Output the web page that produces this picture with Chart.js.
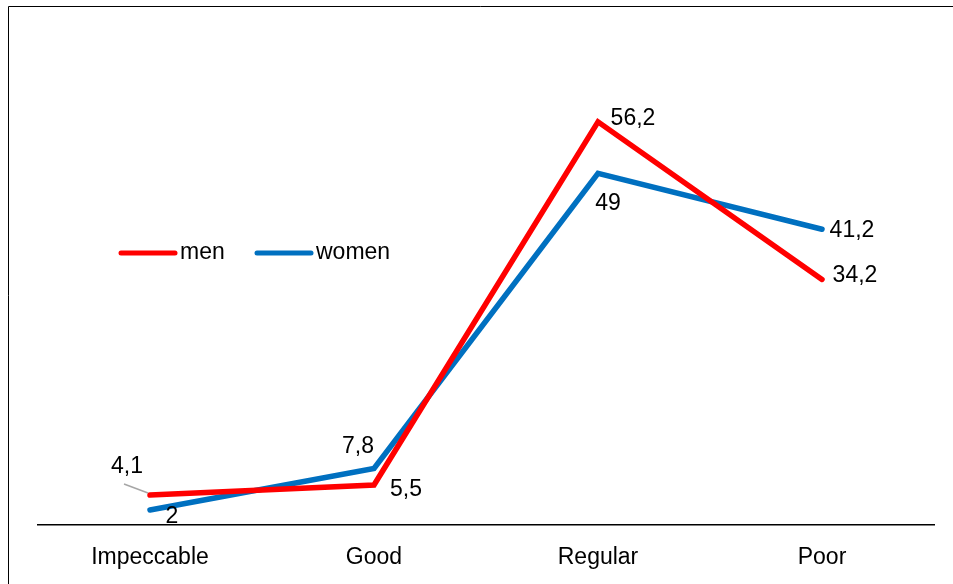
<!DOCTYPE html>
<html>
<head>
<meta charset="utf-8">
<script src="https://cdn.jsdelivr.net/npm/chart.js@4/dist/chart.umd.min.js"></script>
<style>
  html, body { margin: 0; padding: 0; background: #fff; }
  canvas { display: block; }
</style>
</head>
<body>
<canvas id="c" width="953" height="584"></canvas>
<script>
// Categories and series values
const categories = ['Impeccable', 'Good', 'Regular', 'Poor'];
const menValues = [4.1, 5.5, 56.2, 34.2];
const womenValues = [2, 7.8, 49, 41.2];
const seriesNames = ['men', 'women'];

const FONT = 'Liberation Sans, Arial, sans-serif';
const FONT_SIZE = 23;
const fmt = v => String(v).replace('.', ',');

// Label placement around each point (pixel offsets from the point)
const labelOffsets = [
  [[-23, -28], [32, 5], [35, -3], [33, -4]],
  [[22, 7], [-16, -22], [10, 30], [30, 1]]
];

const valueLabels = {
  id: 'valueLabels',
  afterDatasetsDraw(chart) {
    const ctx = chart.ctx;
    ctx.save();
    ctx.font = FONT_SIZE + 'px ' + FONT;
    ctx.fillStyle = '#000';
    ctx.textAlign = 'center';
    ctx.textBaseline = 'middle';
    chart.data.datasets.forEach((ds, di) => {
      const meta = chart.getDatasetMeta(di);
      meta.data.forEach((pt, i) => {
        const [dx, dy] = labelOffsets[di][i];
        const x = pt.x + dx, y = pt.y + dy;
        if (di === 0 && i === 0) {
          // leader line from the label down to its point
          ctx.strokeStyle = '#a6a6a6';
          ctx.lineWidth = 1.5;
          ctx.beginPath();
          ctx.moveTo(x - 3, y + 17);
          ctx.lineTo(pt.x - 2, pt.y - 2);
          ctx.stroke();
        }
        ctx.fillText(fmt(ds.data[i]), x, y);
      });
    });
    ctx.restore();
  }
};

const innerLegend = {
  id: 'innerLegend',
  afterDraw(chart) {
    const ctx = chart.ctx;
    ctx.save();
    ctx.font = FONT_SIZE + 'px ' + FONT;
    ctx.textBaseline = 'middle';
    ctx.textAlign = 'left';
    let x = 121;
    const y = 253;
    chart.data.datasets.forEach(ds => {
      ctx.strokeStyle = ds.borderColor;
      ctx.lineWidth = 5;
      ctx.lineCap = 'round';
      ctx.beginPath();
      ctx.moveTo(x, y);
      ctx.lineTo(x + 54, y);
      ctx.stroke();
      ctx.fillStyle = '#000';
      ctx.fillText(ds.label, x + 59, y);
      x += 136;
    });
    ctx.restore();
  }
};

const frame = {
  id: 'frame',
  afterDraw(chart) {
    const ctx = chart.ctx;
    ctx.save();
    ctx.strokeStyle = '#000';
    ctx.lineWidth = 1;
    ctx.beginPath();
    ctx.moveTo(8.5, 584);
    ctx.lineTo(8.5, 6.5);
    ctx.lineTo(953, 6.5);
    ctx.stroke();
    ctx.restore();
  }
};

new Chart(document.getElementById('c'), {
  type: 'line',
  data: {
    labels: categories,
    datasets: [
      { label: seriesNames[0], data: menValues, borderColor: '#ff0000', backgroundColor: '#ff0000' },
      { label: seriesNames[1], data: womenValues, borderColor: '#0070c0', backgroundColor: '#0070c0' }
    ]
  },
  options: {
    responsive: false,
    animation: false,
    layout: { padding: { left: 38, right: 19, top: 23, bottom: -6 } },
    elements: {
      line: { borderWidth: 5.5, tension: 0, borderCapStyle: 'round', borderJoinStyle: 'miter' },
      point: { radius: 0, hoverRadius: 0 }
    },
    plugins: {
      legend: { display: false },
      tooltip: { enabled: false }
    },
    scales: {
      x: {
        offset: true,
        grid: { display: false, drawTicks: false },
        border: { display: true, color: '#000', width: 1.5 },
        ticks: { color: '#000', font: { family: FONT, size: FONT_SIZE }, padding: 19, maxRotation: 0 }
      },
      y: {
        display: false,
        min: 0,
        max: 70
      }
    }
  },
  plugins: [valueLabels, innerLegend, frame]
});
</script>
</body>
</html>
